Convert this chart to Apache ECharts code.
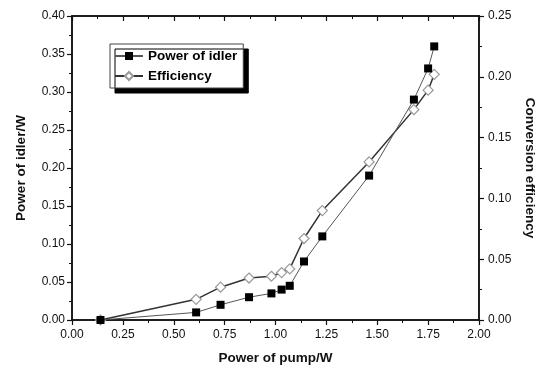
<!DOCTYPE html>
<html>
<head>
<meta charset="utf-8">
<script src="https://cdn.jsdelivr.net/npm/echarts@6/dist/echarts.min.js"></script>
<style>
  html, body { margin: 0; padding: 0; background: #fff; }
  #chart { width: 540px; height: 367px; }
</style>
</head>
<body>
<div id="chart"></div>
<script>
// pump power (W), shared by both curves
const pumpPower = [0.14, 0.61, 0.73, 0.87, 0.98, 1.03, 1.07, 1.14, 1.23, 1.46, 1.68, 1.75, 1.78];
// idler output power (W), left axis
const idlerPower = [0, 0.010, 0.020, 0.030, 0.035, 0.040, 0.045, 0.077, 0.110, 0.190, 0.290, 0.331, 0.360];
// conversion efficiency, right axis
const efficiency = [0, 0.017, 0.027, 0.0345, 0.036, 0.039, 0.042, 0.067, 0.090, 0.130, 0.173, 0.189, 0.202];

const font = 'Liberation Sans';
const axisColor = '#111';

const pairs = (xs, ys) => xs.map((x, i) => [x, ys[i]]);

const chart = echarts.init(document.getElementById('chart'));

const yAxisBase = {
  type: 'value',
  min: 0,
  interval: 0.05,
  nameLocation: 'middle',
  nameTextStyle: { fontFamily: font, fontWeight: 'bold', fontSize: 13.5, color: axisColor },
  axisLine: { show: true, onZero: false, lineStyle: { color: axisColor, width: 1.5 } },
  axisTick: { show: true, length: 5, lineStyle: { color: axisColor, width: 1.2 } },
  minorTick: { show: true, splitNumber: 2, length: 3, lineStyle: { color: axisColor } },
  splitLine: { show: false },
  axisLabel: {
    fontFamily: font, fontSize: 12, color: axisColor,
    formatter: v => v.toFixed(2)
  }
};

chart.setOption({
  backgroundColor: '#fff',
  animation: false,
  grid: {
    left: 72, right: 61, top: 16, bottom: 47,
    outerBoundsMode: 'none',
    show: true,
    borderColor: axisColor,
    borderWidth: 1.5
  },
  legend: {
    left: 110,
    top: 44,
    orient: 'vertical',
    itemWidth: 28,
    itemHeight: 10,
    itemGap: 6,
    padding: [5, 6, 5, 4],
    backgroundColor: '#fff',
    borderColor: '#444',
    borderWidth: 1,
    shadowColor: '#000',
    shadowBlur: 0,
    shadowOffsetX: 5,
    shadowOffsetY: 5,
    textStyle: { fontFamily: font, fontWeight: 'bold', fontSize: 13.5, color: '#000' },
    data: ['Power of idler', 'Efficiency']
  },
  xAxis: [
    {
      type: 'value',
      min: 0,
      max: 2,
      interval: 0.25,
      name: 'Power of pump/W',
      nameLocation: 'middle',
      nameGap: 31,
      nameTextStyle: { fontFamily: font, fontWeight: 'bold', fontSize: 13.5, color: axisColor },
      axisLine: { show: true, onZero: false, lineStyle: { color: axisColor, width: 1.5 } },
      axisTick: { length: 5, lineStyle: { color: axisColor, width: 1.2 } },
      minorTick: { show: true, splitNumber: 2, length: 3, lineStyle: { color: axisColor } },
      splitLine: { show: false },
      axisLabel: {
        fontFamily: font, fontSize: 12, color: axisColor, margin: 9,
        formatter: v => v.toFixed(2)
      }
    },
    {
      type: 'value',
      position: 'top',
      min: 0,
      max: 2,
      interval: 0.25,
      axisLine: { show: true, onZero: false, lineStyle: { color: axisColor, width: 1.5 } },
      axisTick: { show: true, inside: true, length: 5, lineStyle: { color: axisColor, width: 1.2 } },
      minorTick: { show: true, splitNumber: 2, length: 3, lineStyle: { color: axisColor } },
      splitLine: { show: false },
      axisLabel: { show: false }
    }
  ],
  yAxis: [
    Object.assign({}, yAxisBase, {
      position: 'left',
      max: 0.4,
      name: 'Power of idler/W',
      nameGap: 44,
      axisLabel: Object.assign({}, yAxisBase.axisLabel, { margin: 7 })
    }),
    Object.assign({}, yAxisBase, {
      position: 'right',
      max: 0.25,
      name: 'Conversion efficiency',
      nameGap: 42,
      nameRotate: -90,
      axisLabel: Object.assign({}, yAxisBase.axisLabel, { margin: 9 })
    })
  ],
  series: [
    {
      name: 'Power of idler',
      type: 'line',
      xAxisIndex: 0,
      yAxisIndex: 0,
      data: pairs(pumpPower, idlerPower),
      symbol: 'rect',
      symbolSize: 8,
      lineStyle: { color: '#555', width: 1 },
      itemStyle: { color: '#000' },
      z: 3
    },
    {
      name: 'Efficiency',
      type: 'line',
      xAxisIndex: 0,
      yAxisIndex: 1,
      data: pairs(pumpPower, efficiency),
      symbol: 'diamond',
      symbolSize: 10,
      showAllSymbol: true,
      lineStyle: { color: '#333', width: 1.5 },
      itemStyle: { color: '#fff', borderColor: '#999', borderWidth: 1.2 },
      z: 2
    }
  ]
});
</script>
</body>
</html>
